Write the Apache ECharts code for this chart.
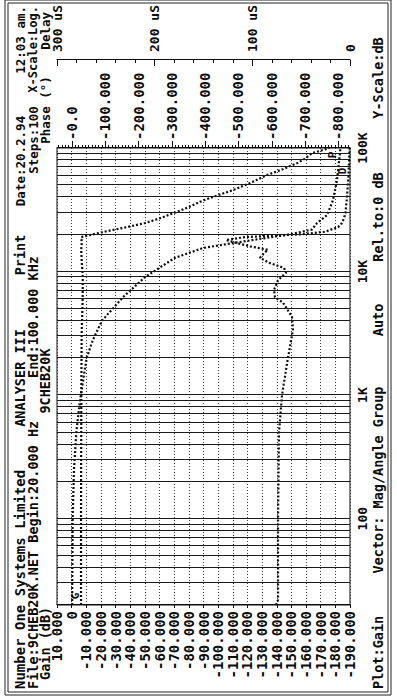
<!DOCTYPE html>
<html>
<head>
<meta charset="utf-8">
<script src="https://cdn.jsdelivr.net/npm/echarts@6.0.0/dist/echarts.min.js"></script>
<style>
html, body { margin: 0; padding: 0; background: #fff; overflow: hidden; }
/* the printout was scanned sideways: draw it upright, then turn the box */
#wrap { position: absolute; left: 0; top: 0; width: 698px; height: 397px;
        transform-origin: 0 0; transform: translate(0, 698px) rotate(-90deg); }
</style>
</head>
<body>
<div id="wrap"></div>
<script>
// gain (dB)
var gainFreq = [20, 100, 1000, 3000, 6000, 9000, 12000, 15000, 17000, 19000, 20900, 22900, 24700, 27000, 30000, 33000, 36700, 39400, 45700, 52000, 60400, 67000, 75200, 82000, 90600, 100000];
var gainDb = [-6.4, -6.4, -6.6, -6.8, -7.5, -7.6, -6.9, -6.5, -6.9, -6.6, -21.4, -37.8, -50.1, -60.3, -70.5, -79.4, -87.6, -94.4, -110.2, -121.7, -133.3, -143.6, -153.8, -159.3, -164.0, -176.0];

// phase (deg)
var phaseFreq = [20, 100, 250, 500, 900, 2000, 2800, 4000, 6200, 9000, 12900, 15500, 17000, 18500, 20000, 21900, 24700, 28600, 37900, 55000, 91000, 100000];
var phaseDeg = [-0.5, -2, -6, -13, -24, -44, -63, -90, -153, -219, -309, -393, -484, -571, -655, -721, -736, -766, -784, -796, -805, -806];

// group delay (uS)
var delayFreq = [20, 22, 100, 500, 1000, 1800, 3400, 4300, 5600, 6200, 7100, 8500, 9800, 10700, 11700, 12900, 14100, 15000, 16000, 17000, 18000, 19000, 20000, 21000, 22900, 24000, 27000, 30000, 40000, 60000, 100000];
var delayUs = [75.8, 73.7, 73.7, 72.7, 69.6, 64.5, 58.4, 59.4, 68.6, 76.8, 77.8, 73.7, 65.5, 67.6, 81.9, 92.2, 88.0, 84.0, 102.4, 115.7, 127.0, 107.5, 51.2, 25.6, 12.3, 9.2, 6.1, 4.6, 3.1, 1.5, 0.5];

// axis labels
var freqLabels = { 100: '100', 1000: '1K', 10000: '10K', 100000: '100K' };
var phaseTicks = [0, -100, -200, -300, -400, -500, -600, -700, -800];

var INK = '#0c0c0c';
var FONT = '"DejaVu Sans Mono", "Liberation Mono", monospace';

// log grid lines: 2..9 x every decade
var freqGrid = [];
[10, 100, 1000, 10000].forEach(function (d) {
	for (var k = 1; k <= 9; k++) {
		var f = k * d;
		if (f > 20 && f < 100000) freqGrid.push(f);
	}
});

// minor phase ticks every 10 deg
var phaseMinor = [];
for (var p = 40; p >= -830; p -= 10) phaseMinor.push(p);

function pairs(xs, ys) {
	return xs.map(function (x, i) { return [x, ys[i]]; });
}

function txt(s, u, v, align, size) {
	return {
		type: 'text', x: u, y: v, silent: true,
		style: {
			text: s, fill: INK,
			font: 'bold ' + (size || 13.5) + 'px ' + FONT,
			align: align || 'left', textAlign: align || 'left',
			verticalAlign: 'middle', textVerticalAlign: 'middle'
		}
	};
}

function tag(letter, coord) {
	return {
		symbol: 'circle', symbolSize: 1, silent: true,
		itemStyle: { color: 'rgba(0,0,0,0)' },
		label: { show: true, position: 'inside', formatter: letter, color: INK, fontSize: 11, fontWeight: 'bold', fontFamily: FONT },
		data: [{ coord: coord }]
	};
}

var curve = { color: INK, width: 2.2, type: [2, 2] };
var lbl = { fontSize: 14, color: INK, fontFamily: FONT, fontWeight: 'bold', showMinLabel: true, showMaxLabel: true, hideOverlap: false };

var myChart = echarts.init(document.getElementById('wrap'), null, { renderer: 'svg' });

option = {
	animation: false,
	backgroundColor: '#fff',
	textStyle: { fontFamily: FONT, color: INK },
	grid: { left: 93, right: 148, top: 57, bottom: 47, show: true, borderColor: INK, borderWidth: 1 },
	xAxis: {
		type: 'log', logBase: 10, min: 20, max: 100000,
		axisLine: { show: false },
		axisTick: { show: false },
		splitLine: { show: false },
		axisLabel: Object.assign({}, lbl, {
			margin: 6, fontSize: 13,
			formatter: function (v) { return freqLabels[Math.round(v)] || ''; }
		})
	},
	yAxis: [
		{   // gain
			type: 'value', min: -190, max: 10, interval: 10, position: 'left',
			axisLine: { show: true, lineStyle: { color: INK } },
			axisTick: { show: true, length: 3, lineStyle: { color: INK } },
			axisLabel: Object.assign({}, lbl, {
				margin: 6,
				formatter: function (v) { return v === 0 ? '0' : v.toFixed(3); }
			}),
			splitLine: { show: true, lineStyle: { color: '#3a3a3a', type: [1, 2], width: 1 } }
		},
		{   // phase, minor ticks + labels
			type: 'value', min: -835, max: 45, position: 'right',
			axisLine: { show: true, lineStyle: { color: INK } },
			axisTick: { show: true, length: 3, customValues: phaseMinor, lineStyle: { color: INK } },
			axisLabel: Object.assign({}, lbl, {
				margin: 8, customValues: phaseTicks,
				formatter: function (v) { return v === 0 ? '-0.0' : v.toFixed(3); }
			}),
			splitLine: { show: false }
		},
		{   // delay
			type: 'value', min: 0, max: 300, interval: 100, position: 'right', offset: 88,
			axisLine: { show: true, lineStyle: { color: INK } },
			axisTick: { show: true, inside: true, length: 6, lineStyle: { color: INK } },
			minorTick: { show: true, splitNumber: 5, length: 3, lineStyle: { color: INK } },
			axisLabel: Object.assign({}, lbl, {
				margin: 8, fontSize: 13,
				formatter: function (v) { return v === 0 ? '0' : v + ' uS'; }
			}),
			splitLine: { show: false }
		},
		{   // phase, major ticks only
			type: 'value', min: -835, max: 45, position: 'right',
			axisLine: { show: false },
			axisTick: { show: true, length: 7, customValues: phaseTicks, lineStyle: { color: INK } },
			axisLabel: { show: false },
			splitLine: { show: false }
		}
	],
	series: [
		{
			name: 'Gain', type: 'line', yAxisIndex: 0, showSymbol: false,
			data: pairs(gainFreq, gainDb), lineStyle: curve,
			markLine: {
				silent: true, symbol: ['none', 'none'], label: { show: false },
				lineStyle: { color: '#1a1a1a', width: 1, type: 'solid' },
				data: freqGrid.map(function (f) { return { xAxis: f }; })
			},
			markPoint: tag('G', [23.7, -2.6])
		},
		{
			name: 'Phase', type: 'line', yAxisIndex: 1, showSymbol: false,
			data: pairs(phaseFreq, phaseDeg), lineStyle: curve,
			markPoint: tag('P', [87700, -781])
		},
		{
			name: 'Delay', type: 'line', yAxisIndex: 2, showSymbol: false,
			data: pairs(delayFreq, delayUs), lineStyle: curve,
			markPoint: tag('D', [65200, 7.2])
		}
	],
	graphic: [
		{ type: 'rect', silent: true, shape: { x: 3, y: 5, width: 695, height: 386 }, style: { fill: 'none', stroke: '#222', lineWidth: 1 } },
		{ type: 'rect', silent: true, shape: { x: 6, y: 8, width: 689, height: 380 }, style: { fill: 'none', stroke: '#222', lineWidth: 1 } },
		txt('Number One Systems Limited', 9, 20, 'left', 14),
		txt('ANALYSER III', 320, 20, 'center'),
		txt('Print', 443, 20, 'center'),
		txt('Date:20.2.94', 537, 20, 'center', 12.5),
		txt('12:03 am.', 692, 20, 'right', 12.5),
		txt('File:9CHEB20K.NET Begin:20.000 Hz', 9, 33),
		txt('End:100.000 KHz', 381, 33, 'center'),
		txt('Steps:100', 558, 33, 'center', 12.5),
		txt('X-Scale:Log.', 692, 33, 'right', 12),
		txt('Gain (dB)', 18, 45),
		txt('9CHEB20K', 317, 45, 'center'),
		txt('Phase (°)', 588, 45, 'center', 12.5),
		txt('Delay', 686, 45, 'right', 12.5),
		txt('Plot:Gain', 9, 378, 'left', 13.5),
		txt('Vector: Mag/Angle Group', 218, 378, 'center', 13.5),
		txt('Auto', 378, 378, 'center', 13.5),
		txt('Rel.to:0 dB', 481, 378, 'center', 13.5),
		txt('Y-Scale:dB', 620, 378, 'center', 13.5)
	]
};

myChart.setOption(option);
</script>
</body>
</html>
